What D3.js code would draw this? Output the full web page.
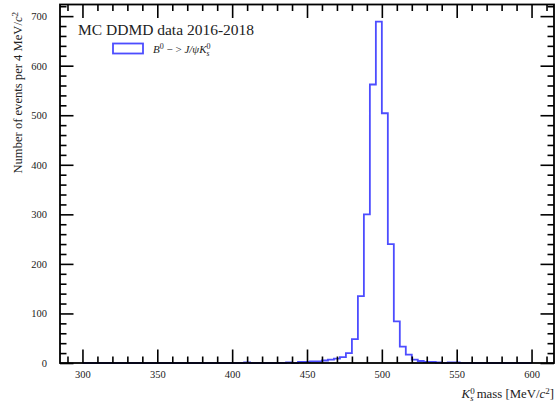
<!DOCTYPE html>
<html>
<head>
<meta charset="utf-8">
<script src="https://cdn.jsdelivr.net/npm/d3@7"></script>
<style>
  body { margin: 0; background: #fff; }
  text { font-family: "Liberation Serif", "DejaVu Serif", serif; }
</style>
</head>
<body>
<div class="chart"></div>
<script>
// histogram: 4 MeV bins from 300 to 600
var histLow = 300;
var histHigh = 600;
var binWidth = 4;
var counts = [
  0, 0, 0, 0, 0, 0, 0, 0, 0, 0,
  0, 0, 0, 0, 0, 0, 0, 0, 0, 0,
  0, 0, 0, 0, 0, 0, 0, 1, 0, 0,
  0, 0, 0, 0, 1, 0, 2, 2, 3, 3,
  5, 7, 9, 12, 20, 48, 135, 300, 562, 689,
  504, 240, 84, 33, 17, 7, 4, 2, 2, 1,
  0, 1, 1, 0, 0, 0, 0, 0, 0, 0,
  0, 0, 0, 0, 0
];
var xMajor = [300, 350, 400, 450, 500, 550, 600];
var yMajor = [0, 100, 200, 300, 400, 500, 600, 700];
var title = "MC DDMD data 2016-2018";

var width = 560, height = 402;
var margin = {top: 4.5, right: 6, bottom: 39, left: 60};
var w = width - margin.left - margin.right;
var h = height - margin.top - margin.bottom;
var blue = "#4d4dff";

var svg = d3.select('.chart')
  .append('svg')
  .attr('width', width)
  .attr('height', height);

var g = svg.append('g')
  .attr('transform', 'translate(' + margin.left + ',' + margin.top + ')');

// matplotlib style 5% margins on x, 5% headroom on y
var span = histHigh - histLow;
var x = d3.scaleLinear()
  .domain([histLow - 0.05 * span, histHigh + 0.05 * span])
  .range([0, w]);
var y = d3.scaleLinear()
  .domain([0, d3.max(counts) * 1.05])
  .range([h, 0]);

// step outline
var pts = [[histLow, 0]];
counts.forEach(function (c, i) {
  pts.push([histLow + i * binWidth, c]);
});
pts.push([histHigh, 0]);

var line = d3.line()
  .x(function (d) { return x(d[0]); })
  .y(function (d) { return y(d[1]); })
  .curve(d3.curveStepAfter);

g.append('path')
  .datum(pts)
  .attr('d', line)
  .attr('fill', 'none')
  .attr('stroke', blue)
  .attr('stroke-width', 1.8);

// minor ticks
var xMinor = d3.range(290, 611, 10).filter(function (v) { return v % 50 !== 0; });
var yMinor = d3.range(0, 721, 20).filter(function (v) { return v % 100 !== 0; });

function styleAxis(sel) {
  sel.select('.domain').remove();
  sel.selectAll('line').attr('stroke', '#000').attr('stroke-width', 1.6);
  sel.selectAll('text')
    .attr('font-family', '"Liberation Serif", serif')
    .attr('font-size', 10.5)
    .attr('fill', '#222');
}

// bottom
g.append('g').attr('transform', 'translate(0,' + h + ')')
  .call(d3.axisBottom(x).tickValues(xMinor).tickSize(-6.5).tickFormat(''))
  .call(styleAxis);
g.append('g').attr('transform', 'translate(0,' + h + ')')
  .call(d3.axisBottom(x).tickValues(xMajor).tickSize(-13.5).tickPadding(8).tickFormat(d3.format('d')))
  .call(styleAxis);
// top
g.append('g')
  .call(d3.axisTop(x).tickValues(xMinor).tickSize(-6.5).tickFormat(''))
  .call(styleAxis);
g.append('g')
  .call(d3.axisTop(x).tickValues(xMajor).tickSize(-13.5).tickFormat(''))
  .call(styleAxis);
// left
g.append('g')
  .call(d3.axisLeft(y).tickValues(yMinor).tickSize(-6.5).tickFormat(''))
  .call(styleAxis);
g.append('g')
  .call(d3.axisLeft(y).tickValues(yMajor).tickSize(-13.5).tickPadding(13).tickFormat(d3.format('d')))
  .call(styleAxis);
// right
g.append('g').attr('transform', 'translate(' + w + ',0)')
  .call(d3.axisRight(y).tickValues(yMinor).tickSize(-6.5).tickFormat(''))
  .call(styleAxis);
g.append('g').attr('transform', 'translate(' + w + ',0)')
  .call(d3.axisRight(y).tickValues(yMajor).tickSize(-13.5).tickFormat(''))
  .call(styleAxis);

// frame
g.append('rect')
  .attr('width', w)
  .attr('height', h)
  .attr('fill', 'none')
  .attr('stroke', '#000')
  .attr('stroke-width', 1.8);

// title + legend
g.append('text')
  .attr('x', 18)
  .attr('y', 30.5)
  .attr('font-size', 15.5)
  .attr('fill', '#222')
  .text(title);

g.append('rect')
  .attr('x', 53)
  .attr('y', 39)
  .attr('width', 30)
  .attr('height', 10)
  .attr('fill', 'none')
  .attr('stroke', blue)
  .attr('stroke-width', 1.8);

var leg = g.append('text')
  .attr('x', 93)
  .attr('y', 48)
  .attr('font-size', 11)
  .attr('font-style', 'italic')
  .attr('fill', '#222');
leg.append('tspan').text('B');
leg.append('tspan').attr('dy', -4).attr('font-size', 8).attr('font-style', 'normal').text('0');
leg.append('tspan').attr('dy', 4).attr('font-style', 'normal').text(' \u2212 > ');
leg.append('tspan').text('J/\u03c8K');
leg.append('tspan').attr('dy', -4).attr('font-size', 8).attr('font-style', 'normal').text('0');
leg.append('tspan').attr('dx', -4).attr('dy', 7).attr('font-size', 7.5).text('s');

// axis labels
var xl = svg.append('text')
  .attr('x', margin.left + w)
  .attr('y', 398)
  .attr('text-anchor', 'end')
  .attr('font-size', 12.8)
  .attr('fill', '#222');
xl.append('tspan').attr('font-style', 'italic').text('K');
xl.append('tspan').attr('dy', -4.5).attr('font-size', 9).text('0');
xl.append('tspan').attr('dx', -4.5).attr('dy', 7.5).attr('font-size', 8.5).attr('font-style', 'italic').text('s');
xl.append('tspan').attr('dy', -3).text(' mass [MeV/');
xl.append('tspan').attr('font-style', 'italic').text('c');
xl.append('tspan').attr('dy', -4.5).attr('font-size', 9).text('2');
xl.append('tspan').attr('dy', 4.5).text(']');

var yl = svg.append('text')
  .attr('transform', 'translate(22,12) rotate(-90)')
  .attr('text-anchor', 'end')
  .attr('font-size', 12.6)
  .attr('fill', '#222');
yl.append('tspan').text('Number of events per 4 MeV/');
yl.append('tspan').attr('font-style', 'italic').text('c');
yl.append('tspan').attr('dy', -4.5).attr('font-size', 9).text('2');
</script>
</body>
</html>
